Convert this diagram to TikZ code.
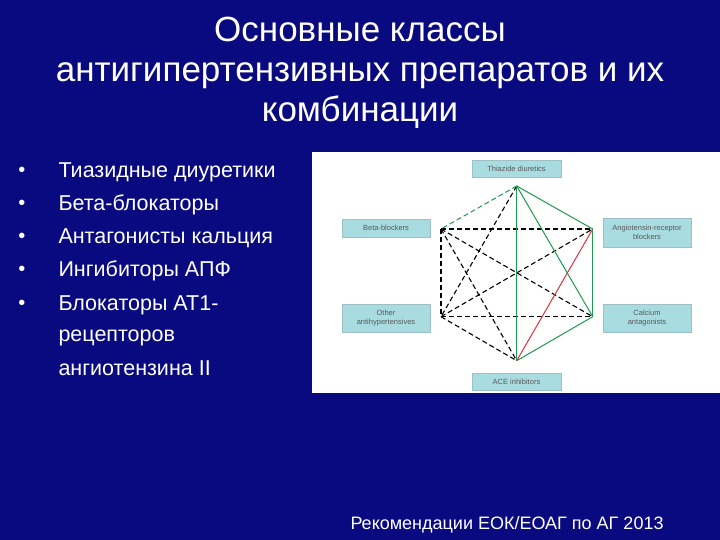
\documentclass[tikz,border=0pt]{standalone}
\usepackage{fontspec}
\setmainfont{Liberation Sans}
\definecolor{bg}{HTML}{0A0A80}
\definecolor{boxc}{HTML}{A8DCE0}
\definecolor{gr}{HTML}{1E9A50}
\definecolor{rd}{HTML}{E03040}
\begin{document}
\begin{tikzpicture}[x=1pt,y=-1pt,
  lab/.style={fill=boxc,draw=boxc!70!gray,inner sep=0pt,font=\fontsize{7.5}{8.5}\selectfont,align=center,text=black!65},
  dk/.style={black,dashed,line width=1.1pt,dash pattern=on 5pt off 3pt},
  gs/.style={gr,line width=1pt},
  txt/.style={text=white,anchor=west,font=\fontsize{21.5}{23}\selectfont}]
\fill[bg] (0,0) rectangle (720,540);
\useasboundingbox (0,0) rectangle (720,540);
\node[text=white,align=center,font=\fontsize{35}{40}\selectfont] (title) at (360,73) {Основные классы\\антигипертензивных препаратов и их\\комбинации};
\foreach \y/\t [count=\i] in {172/Тиазидные диуретики,205/Бета-блокаторы,238/Антагонисты кальция,271/Ингибиторы АПФ,305/Блокаторы AT1-}{
  \node[text=white,font=\fontsize{20}{23}\selectfont] (b\i) at (22,\y) {•};
  \node[txt] (t\i) at (55,\y) {\t};}
\node[txt] (t6) at (55,338) {рецепторов};
\node[txt] (t7) at (55,368) {ангиотензина II};
\fill[white] (312,152) rectangle (720,393);
\node[lab,minimum width=89pt,minimum height=17pt] (lT) at (516.5,168.5) {Thiazide diuretics};
\node[lab,minimum width=88pt,minimum height=18pt] (lB) at (386,228) {Beta-blockers};
\node[lab,minimum width=88pt,minimum height=29pt] (lA) at (647,232.5) {Angiotensin-receptor\\blockers};
\node[lab,minimum width=88pt,minimum height=28pt] (lO) at (386,318) {Other\\antihypertensives};
\node[lab,minimum width=88pt,minimum height=28pt] (lC) at (647,318) {Calcium\\antagonists};
\node[lab,minimum width=89pt,minimum height=17pt] (lE) at (516.5,381.5) {ACE inhibitors};
\coordinate (T) at (516.7,186);
\coordinate (B) at (441,229);
\coordinate (A) at (592.7,229);
\coordinate (O) at (441,316.7);
\coordinate (C) at (592.7,316.7);
\coordinate (E) at (516.7,360.7);
\draw[dk] (B)--(A); \draw[dk] (O)--(C); \draw[dk,line width=1.8pt] (B)--(O);
\draw[dk] (B)--(C); \draw[dk] (O)--(A); \draw[dk] (T)--(O); \draw[dk] (B)--(E); \draw[dk] (O)--(E);
\draw[gr,dashed,line width=1pt,dash pattern=on 5pt off 3pt] (T)--(B);
\draw[gs] (T)--(A); \draw[gs] (T)--(E); \draw[gs] (T)--(C); \draw[gs] (A)--(C); \draw[gs] (C)--(E);
\draw[rd,line width=1pt] (A)--(E);
\node[text=white,font=\fontsize{18}{20}\selectfont] (foot) at (507,525) {Рекомендации ЕОК/ЕОАГ по АГ 2013};
\end{tikzpicture}
\end{document}
